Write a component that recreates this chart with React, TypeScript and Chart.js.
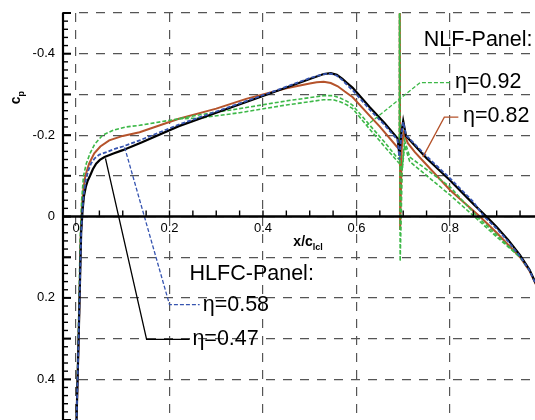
import { useEffect, useRef } from 'react';
import { Chart, registerables } from 'chart.js';
Chart.register(...registerables);

// eta = 0.47 (HLFC panel) – black solid
const xEta047 = [0.0, 0.006, 0.011, 0.014, 0.017, 0.021, 0.025, 0.03, 0.036, 0.043, 0.051, 0.061, 0.08, 0.1, 0.14, 0.22, 0.3, 0.4, 0.5, 0.515, 0.53, 0.545, 0.558, 0.57, 0.58, 0.592, 0.628, 0.66, 0.688, 0.692, 0.696, 0.7, 0.706, 0.75, 0.8, 0.85, 0.878, 0.9, 0.925, 0.95, 0.97, 0.99];
const cpEta047 = [0.55, 0.28, 0.04, -0.015, -0.05, -0.073, -0.088, -0.1, -0.116, -0.13, -0.139, -0.146, -0.155, -0.163, -0.182, -0.222, -0.255, -0.296, -0.338, -0.344, -0.35, -0.352, -0.348, -0.338, -0.328, -0.316, -0.269, -0.23, -0.192, -0.15, -0.205, -0.235, -0.198, -0.143, -0.089, -0.031, 0.0, 0.026, 0.058, 0.095, 0.13, 0.18];

// eta = 0.58 (HLFC panel) – blue dashed
const xEta058 = [0.0, 0.006, 0.011, 0.014, 0.017, 0.021, 0.026, 0.032, 0.04, 0.05, 0.065, 0.08, 0.1, 0.136, 0.22, 0.3, 0.4, 0.5, 0.515, 0.53, 0.545, 0.558, 0.57, 0.58, 0.592, 0.628, 0.66, 0.688, 0.692, 0.696, 0.7, 0.706, 0.75, 0.8, 0.85, 0.873, 0.9, 0.925, 0.95, 0.97, 0.99];
const cpEta058 = [0.55, 0.28, 0.04, -0.02, -0.06, -0.09, -0.112, -0.13, -0.143, -0.152, -0.158, -0.165, -0.172, -0.187, -0.226, -0.258, -0.298, -0.34, -0.345, -0.35, -0.351, -0.346, -0.335, -0.323, -0.31, -0.263, -0.225, -0.188, -0.14, -0.2, -0.232, -0.2, -0.148, -0.094, -0.036, 0.0, 0.03, 0.062, 0.098, 0.132, 0.182];

// eta = 0.82 (NLF panel) – brown solid
const xEta082 = [0.0, 0.006, 0.01, 0.013, 0.016, 0.02, 0.028, 0.039, 0.052, 0.071, 0.1, 0.136, 0.22, 0.3, 0.364, 0.45, 0.5, 0.515, 0.53, 0.545, 0.56, 0.575, 0.592, 0.628, 0.65, 0.686, 0.6915, 0.6925, 0.6935, 0.697, 0.701, 0.71, 0.725, 0.742, 0.8, 0.864, 0.9, 0.925, 0.95, 0.97, 0.99];
const cpEta082 = [0.55, 0.28, 0.05, -0.03, -0.07, -0.1, -0.13, -0.155, -0.172, -0.187, -0.198, -0.207, -0.24, -0.265, -0.289, -0.315, -0.327, -0.33, -0.331, -0.328, -0.32, -0.307, -0.293, -0.248, -0.221, -0.172, -0.166, -0.8, 0.033, -0.17, -0.205, -0.18, -0.158, -0.137, -0.065, 0.0, 0.04, 0.07, 0.1, 0.133, 0.182];

// eta = 0.92 (NLF panel) – green dashed, two traces
const xEta092a = [0.0, 0.005, 0.009, 0.012, 0.016, 0.022, 0.03, 0.04, 0.057, 0.08, 0.107, 0.136, 0.22, 0.265, 0.35, 0.45, 0.5, 0.53, 0.55, 0.565, 0.58, 0.592, 0.628, 0.66, 0.686, 0.6915, 0.6925, 0.6935, 0.698, 0.703, 0.714, 0.8, 0.858, 0.9, 0.925, 0.95, 0.97, 0.99];
const cpEta092a = [0.55, 0.28, 0.05, -0.04, -0.1, -0.13, -0.155, -0.178, -0.2, -0.212, -0.22, -0.224, -0.24, -0.25, -0.265, -0.284, -0.292, -0.297, -0.297, -0.291, -0.283, -0.273, -0.225, -0.183, -0.146, -0.14, -0.8, 0.11, -0.12, -0.187, -0.146, -0.073, 0.0, 0.045, 0.073, 0.1, 0.132, 0.18];
const xEta092b = [0.22, 0.265, 0.35, 0.45, 0.5, 0.53, 0.55, 0.565, 0.58, 0.592, 0.628, 0.66, 0.686, 0.692, 0.698, 0.703, 0.714, 0.8, 0.852, 0.9, 0.925, 0.95];
const cpEta092b = [-0.24, -0.242, -0.255, -0.274, -0.282, -0.287, -0.287, -0.282, -0.274, -0.265, -0.215, -0.172, -0.138, -0.13, -0.115, -0.175, -0.135, -0.053, 0.0, 0.05, 0.075, 0.1];

// leader lines (data coordinates)
const xLead092 = [0.8, 0.736, 0.622];
const cpLead092 = [-0.329, -0.329, -0.224];
const xLead082 = [0.818, 0.788, 0.742];
const cpLead082 = [-0.244, -0.244, -0.146];
const xLead058 = [0.104, 0.2, 0.2645];
const cpLead058 = [-0.17, 0.2165, 0.2165];
const xLead047 = [0.063, 0.151, 0.243];
const cpLead047 = [-0.143, 0.302, 0.302];

// annotation texts
const noteTexts = ['NLF-Panel:', 'η=0.92', 'η=0.82', 'HLFC-Panel:', 'η=0.58', 'η=0.47'];
const noteX = [0.744, 0.811, 0.828, 0.243, 0.271, 0.249];
const noteCp = [-0.434, -0.3315, -0.246, 0.1407, 0.2165, 0.302];

// ticks
const xTickValues = [0, 0.2, 0.4, 0.6, 0.8];
const xTickLabels = ['0', '0.2', '0.4', '0.6', '0.8'];
const yTickValues = [-0.4, -0.2, 0, 0.2, 0.4];
const yTickLabels = ['-0.4', '-0.2', '0', '0.2', '0.4'];
const xGridValues = [0, 0.2, 0.4, 0.6, 0.8];
const yGridValues = [-0.5, -0.4, -0.3, -0.2, -0.1, 0, 0.1, 0.2, 0.3, 0.4];

const FONT = '"Liberation Sans", Arial, sans-serif';

const pts = (xs: number[], ys: number[]) => xs.map((v, i) => ({ x: v, y: ys[i] }));

const overlay = {
  id: 'overlay',
  afterDatasetsDraw(chart: any) {
    const { ctx, chartArea: a, scales } = chart;
    const sx = scales.x;
    const sy = scales.y;
    ctx.save();
    ctx.strokeStyle = '#000';
    ctx.setLineDash([]);
    // y axis line
    ctx.lineWidth = 2.2;
    ctx.beginPath();
    ctx.moveTo(a.left + 1, a.top);
    ctx.lineTo(a.left + 1, a.bottom);
    ctx.stroke();
    // x axis line at cp = 0
    const y0 = sy.getPixelForValue(0);
    ctx.lineWidth = 2.5;
    ctx.beginPath();
    ctx.moveTo(a.left, y0);
    ctx.lineTo(a.right, y0);
    ctx.stroke();
    // y ticks every 0.02 (major every 0.1)
    for (let i = -25; i <= 25; i++) {
      const p = sy.getPixelForValue(i * 0.02);
      const major = i % 5 === 0;
      ctx.lineWidth = major ? 2 : 1.4;
      ctx.beginPath();
      ctx.moveTo(a.left + 1, p);
      ctx.lineTo(a.left + 1 + (major ? 8 : 5), p);
      ctx.stroke();
    }
    // x ticks every 0.05
    for (let i = 1; i <= 19; i++) {
      const p = sx.getPixelForValue(i * 0.05);
      ctx.lineWidth = 1.4;
      ctx.beginPath();
      ctx.moveTo(p, y0);
      ctx.lineTo(p, y0 - 6);
      ctx.stroke();
    }
    // tick labels
    ctx.fillStyle = '#000';
    ctx.font = `13px ${FONT}`;
    ctx.textAlign = 'center';
    ctx.textBaseline = 'top';
    xTickValues.forEach((v, i) => {
      ctx.fillText(xTickLabels[i], sx.getPixelForValue(v), y0 + 5);
    });
    ctx.textAlign = 'right';
    ctx.textBaseline = 'middle';
    yTickValues.forEach((v, i) => {
      ctx.fillText(yTickLabels[i], a.left - 7, sy.getPixelForValue(v));
    });
    // x axis title x/c_lcl
    ctx.textAlign = 'left';
    ctx.textBaseline = 'alphabetic';
    ctx.font = `bold 14px ${FONT}`;
    const tx = sx.getPixelForValue(0.465);
    ctx.fillText('x/c', tx, y0 + 29);
    const w1 = ctx.measureText('x/c').width;
    ctx.font = `bold 9px ${FONT}`;
    ctx.fillText('lcl', tx + w1, y0 + 33);
    // y axis title c_p (rotated)
    ctx.save();
    ctx.translate(20, sy.getPixelForValue(-0.295));
    ctx.rotate(-Math.PI / 2);
    ctx.font = `bold 14px ${FONT}`;
    ctx.textAlign = 'left';
    const wc = ctx.measureText('c').width;
    ctx.fillText('c', -wc, 0);
    ctx.font = `bold 9px ${FONT}`;
    ctx.fillText('p', 0, 4);
    ctx.restore();
    // annotations
    ctx.font = `21.5px ${FONT}`;
    ctx.textAlign = 'left';
    ctx.textBaseline = 'middle';
    noteTexts.forEach((t, i) => {
      ctx.fillText(t, sx.getPixelForValue(noteX[i]), sy.getPixelForValue(noteCp[i]));
    });
    ctx.restore();
  },
};

export default function App() {
  const ref = useRef<HTMLCanvasElement | null>(null);
  useEffect(() => {
    if (!ref.current) return;
    const black = '#000000';
    const blue = '#3654b0';
    const brown = '#b5532b';
    const green = '#3db848';
    const chart = new Chart(ref.current, {
      type: 'line',
      data: {
        datasets: [
          { data: pts(xEta092a, cpEta092a), borderColor: green, borderWidth: 1.6, borderDash: [4, 2], order: 3 },
          { data: pts(xEta092b, cpEta092b), borderColor: green, borderWidth: 1.6, borderDash: [4, 2], order: 3 },
          { data: pts(xEta082, cpEta082), borderColor: brown, borderWidth: 2, order: 4 },
          { data: pts(xEta047, cpEta047), borderColor: black, borderWidth: 2.2, order: 2 },
          { data: pts(xEta058, cpEta058), borderColor: blue, borderWidth: 1.8, borderDash: [4, 2], order: 1 },
          { data: pts(xLead092, cpLead092), borderColor: green, borderWidth: 1.3, borderDash: [4, 2], order: 0 },
          { data: pts(xLead082, cpLead082), borderColor: brown, borderWidth: 1.3, order: 0 },
          { data: pts(xLead058, cpLead058), borderColor: blue, borderWidth: 1.3, borderDash: [4, 2], order: 0 },
          { data: pts(xLead047, cpLead047), borderColor: black, borderWidth: 1.3, order: 0 },
        ] as any,
      },
      options: {
        animation: false,
        responsive: false,
        events: [],
        layout: { padding: { left: 62, top: 13, right: 0, bottom: 0 } },
        elements: { point: { radius: 0 }, line: { tension: 0 } },
        plugins: { legend: { display: false }, tooltip: { enabled: false }, title: { display: false } },
        scales: {
          x: {
            type: 'linear',
            min: -0.03,
            max: 0.982,
            afterBuildTicks: (s: any) => { s.ticks = xGridValues.map((v) => ({ value: v })); },
            ticks: { display: false },
            grid: { color: '#555', lineWidth: 1.2, drawTicks: false },
            border: { display: false, dash: [9, 8] },
          },
          y: {
            type: 'linear',
            min: -0.5,
            max: 0.5,
            reverse: true,
            afterBuildTicks: (s: any) => { s.ticks = yGridValues.map((v) => ({ value: v })); },
            ticks: { display: false },
            grid: { color: '#555', lineWidth: 1.2, drawTicks: false },
            border: { display: false, dash: [9, 8] },
          },
        },
      },
      plugins: [overlay],
    });
    return () => chart.destroy();
  }, []);
  return (
    <div style={{ position: 'absolute', left: 0, top: 0, width: 535, height: 420, background: '#fff' }}>
      <canvas ref={ref} width={535} height={420} style={{ display: 'block' }} />
    </div>
  );
}
